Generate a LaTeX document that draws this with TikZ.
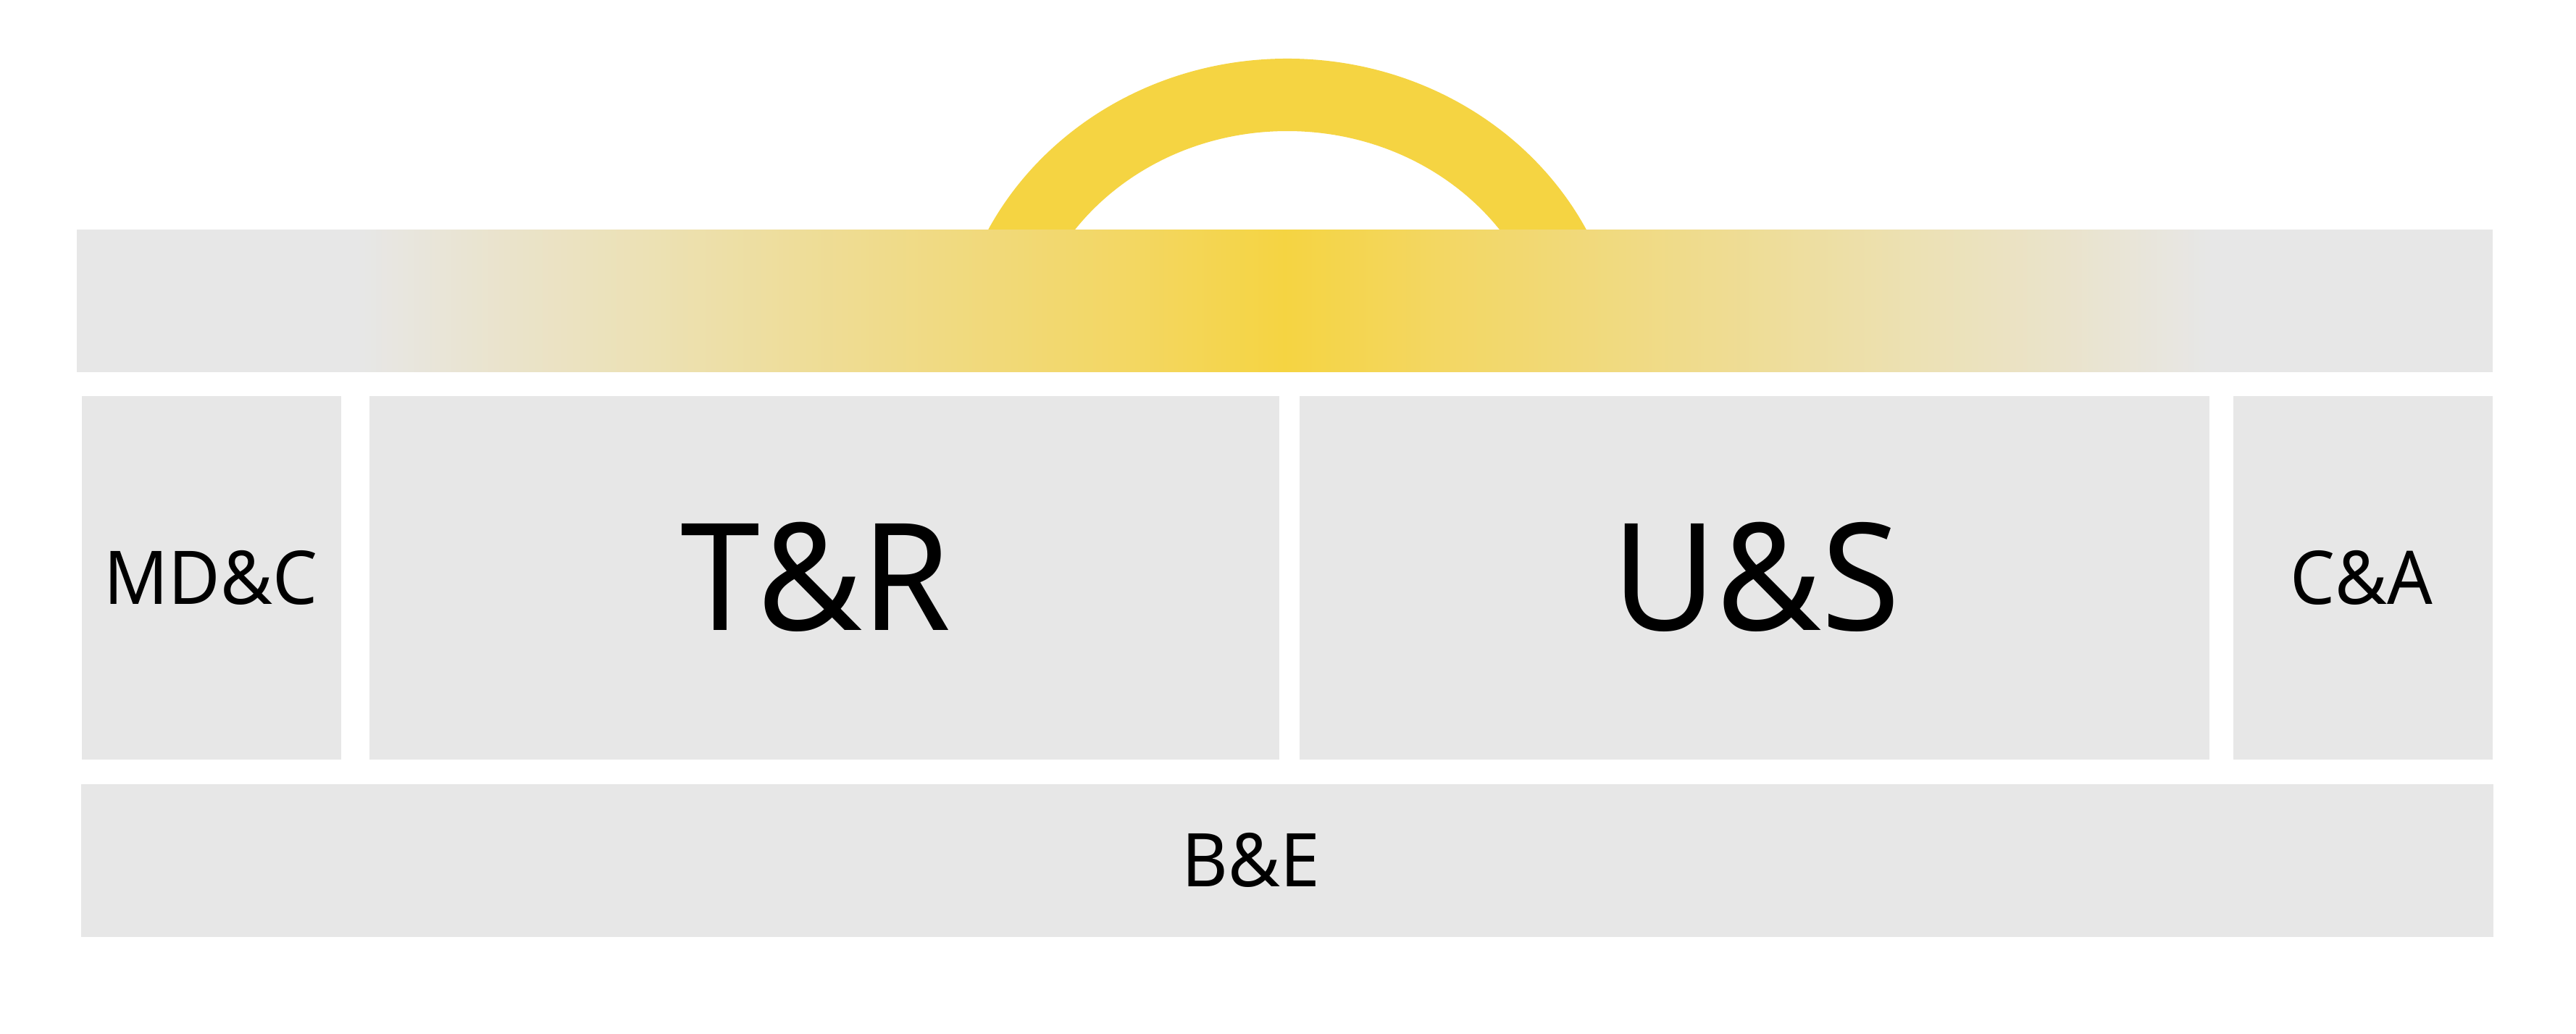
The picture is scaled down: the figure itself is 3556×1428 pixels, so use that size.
\documentclass[tikz,border=0pt]{standalone}
\usepackage{fontspec}
\setmainfont{Noto Sans}[FakeStretch=0.96]
\definecolor{boxgray}{HTML}{E7E7E7}
\definecolor{archyellow}{HTML}{F5D442}
\definecolor{sa}{HTML}{EAE3CB}
\definecolor{sb}{HTML}{ECE1B4}
\definecolor{sc}{HTML}{EEDD9A}
\definecolor{sd}{HTML}{F0DA82}
\definecolor{se}{HTML}{F3D764}
\pgfdeclarehorizontalshading{barshade}{100bp}{color(0bp)=(boxgray); color(30.8bp)=(boxgray); color(33.9bp)=(sa); color(36.9bp)=(sb); color(39.9bp)=(sc); color(42.9bp)=(sd); color(46.65bp)=(se); color(50bp)=(archyellow); color(53.35bp)=(se); color(57.1bp)=(sd); color(60.1bp)=(sc); color(63.1bp)=(sb); color(66.1bp)=(sa); color(69.2bp)=(boxgray); color(100bp)=(boxgray)}
\tikzset{
  blk/.style={fill=boxgray, draw=none, inner sep=0pt, outer sep=0pt},
  biglabel/.style={anchor=base, inner sep=0pt, text=black, font=\fontsize{58.6}{60}\selectfont},
  smalllabel/.style={anchor=base, inner sep=0pt, text=black, font=\fontsize{29.1}{30}\selectfont},
  arch/.style={draw=archyellow, line width=1cm}
}
\begin{document}
\begin{tikzpicture}[x=0.01cm, y=-0.01cm]
\useasboundingbox (0,0) rectangle (3556,1428);
\fill[white] (0,0) rectangle (3556,1428);
% arch (handle)
\draw[arch] (1364,513) arc[start angle=180, end angle=360, x radius=413, y radius=382];
% top bar
\node[blk, shading=barshade, minimum width=33.33cm, minimum height=1.95cm] (top) at (1773.5,415.5) {};
% middle row
\node[blk, minimum width=3.58cm, minimum height=5.02cm] (mdc) at (292,798) {};
\node[blk, minimum width=12.56cm, minimum height=5.02cm] (tr) at (1138,798) {};
\node[blk, minimum width=12.56cm, minimum height=5.02cm] (us) at (2422,798) {};
\node[blk, minimum width=3.58cm, minimum height=5.02cm] (ca) at (3262,798) {};
% bottom row
\node[blk, minimum width=33.28cm, minimum height=2.11cm] (be) at (1777,1188.5) {};
% labels
\node[smalllabel] (mdcl) at (291,834.5) {MD\&C};
\node[biglabel] (trl) at (1126,871) {T\&R};
\node[biglabel] (usl) at (2424,871) {U\&S};
\node[smalllabel] (cal) at (3260,834.5) {C\&A};
\node[smalllabel] (bel) at (1727,1225) {B\&E};
\end{tikzpicture}
\end{document}
